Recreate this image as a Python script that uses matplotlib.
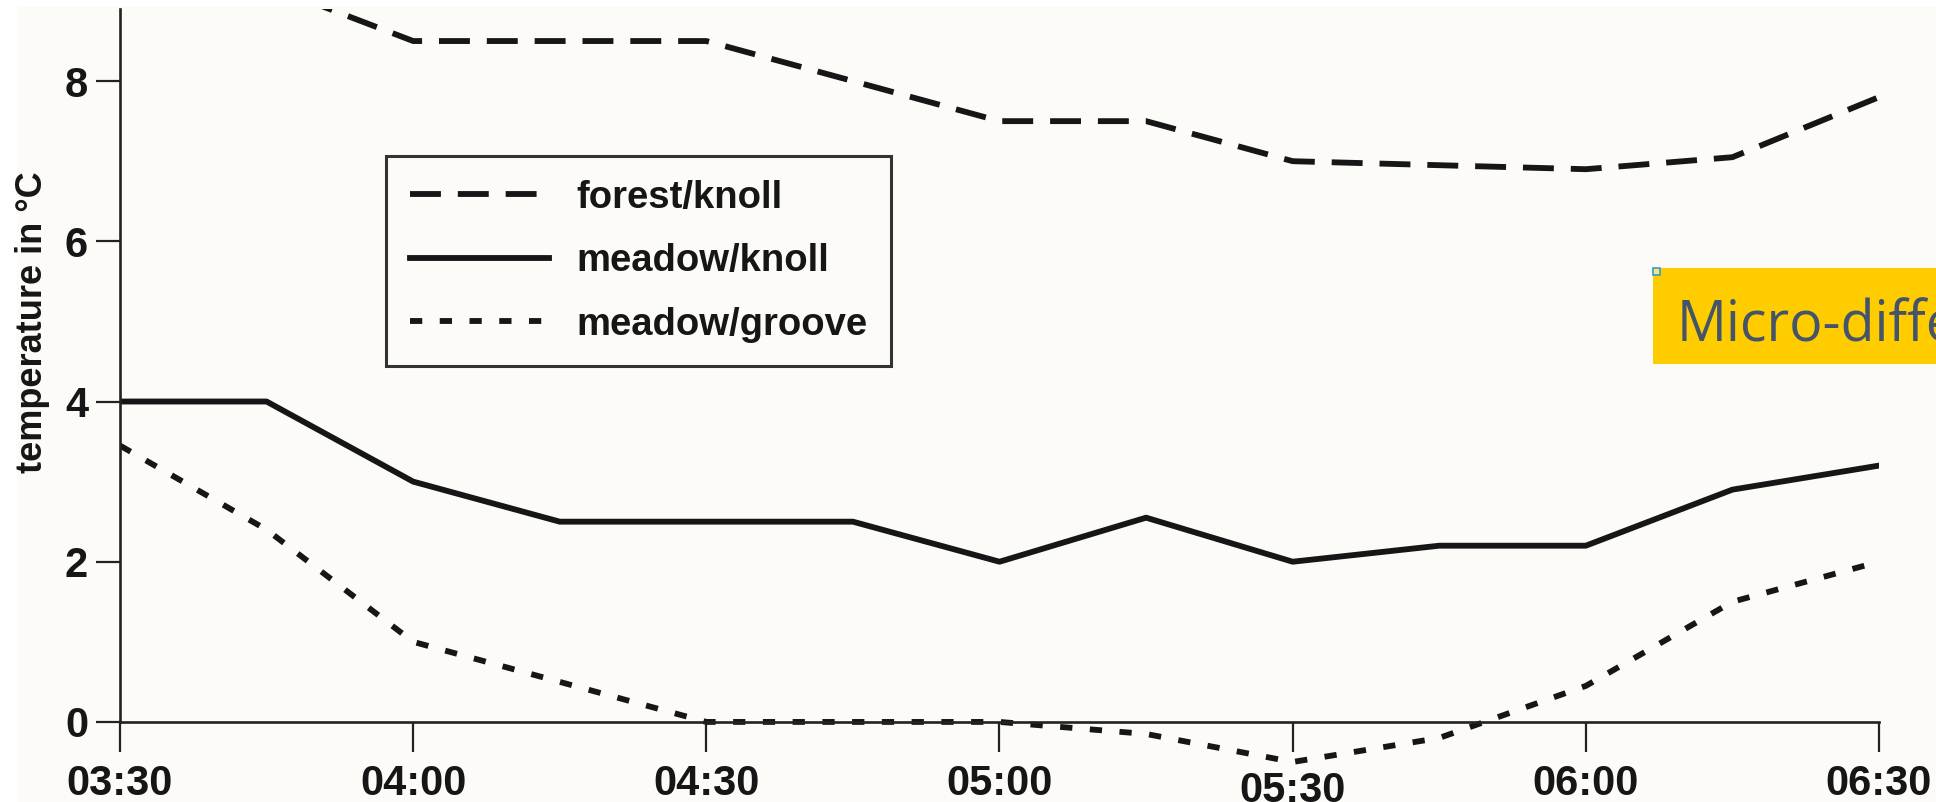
import matplotlib.pyplot as plt
from matplotlib.patches import Rectangle

# --- Data ---
times = ["03:30", "03:45", "04:00", "04:15", "04:30", "04:45", "05:00",
         "05:15", "05:30", "05:45", "06:00", "06:15", "06:30"]
forest_knoll = [9.9, 9.2, 8.5, 8.5, 8.5, 8.0, 7.5, 7.5, 7.0, 6.95, 6.9, 7.05, 7.8]
meadow_knoll = [4.0, 4.0, 3.0, 2.5, 2.5, 2.5, 2.0, 2.55, 2.0, 2.2, 2.2, 2.9, 3.2]
meadow_groove = [3.45, 2.4, 1.0, 0.5, 0.0, 0.0, 0.0, -0.15, -0.5, -0.2, 0.45, 1.5, 2.0]

tick_labels = ["03:30", "04:00", "04:30", "05:00", "05:30", "06:00", "06:30"]
y_ticks = [0, 2, 4, 6, 8]


def to_minutes(t):
    h, m = t.split(":")
    return int(h) * 60 + int(m)


x = [to_minutes(t) for t in times]
x_ticks = [to_minutes(t) for t in tick_labels]

# --- Style ---
ink = "#161616"
font = "Liberation Sans"
forest_style = {"color": ink, "lw": 4.2, "ls": (0, (5.3, 2.9))}
knoll_style = {"color": ink, "lw": 4.2, "ls": "-"}
groove_style = {"color": ink, "lw": 4.2, "ls": (0, (2.1, 3.0))}

W, H = 1936, 802
fig = plt.figure(figsize=(W / 100, H / 100), dpi=100)
fig.patch.set_facecolor("white")

# off-white scan background, pasted slightly inside the slide
fig.patches.append(Rectangle((17 / W, 0), 1, 1 - 7 / H, transform=fig.transFigure,
                             facecolor="#fdfbf7", edgecolor="none", zorder=-2))

ax = fig.add_axes([120 / W, 1 - 770 / H, (1879 - 120) / W, (770 - 9) / H])
ax.patch.set_visible(False)

ax.plot(x, forest_knoll, label="forest/knoll", **forest_style)
ax.plot(x, meadow_knoll, label="meadow/knoll", **knoll_style)
ax.plot(x, meadow_groove, label="meadow/groove", **groove_style)

ax.set_xlim(x[0], x[-1])
ax.set_ylim(-0.6, 8.9)

for side in ["top", "right"]:
    ax.spines[side].set_visible(False)
ax.spines["bottom"].set_position(("data", 0))
ax.spines["left"].set_bounds(0, 8.9)
for side in ["bottom", "left"]:
    ax.spines[side].set_linewidth(1.9)
    ax.spines[side].set_color("#222222")

ax.set_xticks(x_ticks)
ax.set_xticklabels(tick_labels)
ax.set_yticks(y_ticks)
ax.tick_params(axis="x", length=21.5, width=1.6, color="#222222", pad=9)
ax.tick_params(axis="y", length=17, width=1.6, color="#222222", pad=6)
for lab in ax.get_xticklabels() + ax.get_yticklabels():
    lab.set_fontfamily(font)
    lab.set_fontweight("bold")
    lab.set_fontsize(30)
    lab.set_color(ink)
# 05:30 label sits a bit lower in the original
ax.xaxis.get_major_ticks()[4].set_pad(13.5)

fig.text(33 / W, 1 - 322 / H, "temperature in °C", rotation=90, ha="center", va="center",
         fontsize=26, fontweight="bold", family=font, color=ink)

leg = ax.legend(loc="upper left", bbox_to_anchor=(386 / W, 1 - 156 / H),
                bbox_transform=fig.transFigure, borderaxespad=0, fancybox=False,
                framealpha=1, facecolor="#fdfbf7", edgecolor="#333333", borderpad=0.62,
                handlelength=3.66, handletextpad=0.7, labelspacing=0.72,
                prop={"family": font, "weight": "bold", "size": 27.5})
leg.get_frame().set_linewidth(2.2)
for txt in leg.get_texts():
    txt.set_color(ink)

# --- Slide overlay: yellow caption box, cut off at the right edge ---
fig.patches.append(Rectangle((1653 / W, 1 - 364 / H), 0.3, 96 / H, transform=fig.transFigure,
                             facecolor="#ffcc00", edgecolor="none", zorder=5))
fig.patches.append(Rectangle((1653 / W, 1 - 275 / H), 7 / W, 7 / H, transform=fig.transFigure,
                             facecolor="#ffe27a", edgecolor="#2a9fd8", lw=1.2, zorder=6))
fig.text(1677 / W, 1 - 342 / H, "Micro-differences", ha="left", va="baseline",
         fontsize=40, family="Open Sans", color="#44546a", zorder=7)

fig.savefig("out.png", dpi=100)
plt.close(fig)
